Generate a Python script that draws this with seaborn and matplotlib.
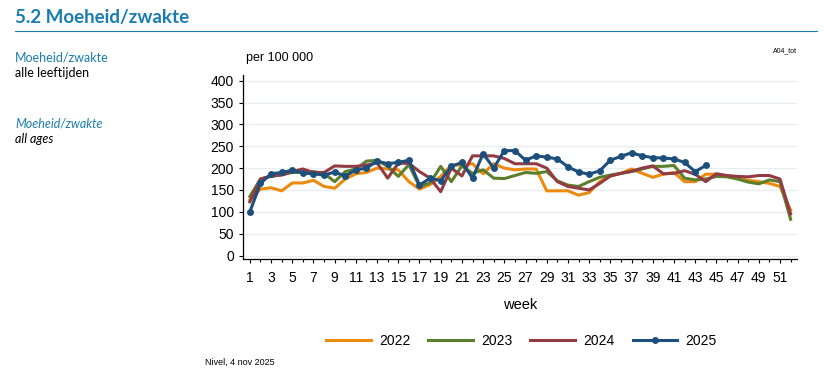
import seaborn as sns
import matplotlib.pyplot as plt
import pandas as pd
from matplotlib.ticker import MultipleLocator

weeks = list(range(1, 53))

y2022 = [127, 152, 155, 148, 166, 166, 172, 158, 154, 175, 187, 190, 200, 198, 196, 169,
         152, 162, 181, 207, 207, 210, 187, 210, 200, 196, 198, 198, 148, 148, 148, 138,
         144, 169, 182, 188, 198, 188, 179, 186, 190, 169, 169, 186, 186, 182, 177, 172,
         169, 165, 158, 104]
y2023 = [135, 175, 181, 185, 190, 190, 192, 188, 169, 192, 198, 216, 218, 204, 181, 208,
         158, 166, 204, 169, 205, 188, 196, 177, 176, 183, 190, 188, 192, 171, 161, 158,
         169, 179, 184, 188, 192, 198, 204, 204, 206, 177, 173, 175, 181, 180, 175, 168,
         164, 173, 169, 83]
y2024 = [123, 175, 182, 184, 192, 198, 190, 190, 205, 204, 204, 207, 212, 177, 211, 211,
         192, 177, 146, 200, 182, 228, 228, 228, 222, 210, 210, 210, 200, 169, 158, 154,
         150, 165, 182, 188, 193, 200, 205, 187, 188, 194, 186, 169, 187, 183, 181, 180,
         183, 183, 175, 95]
y2025 = [100, 165, 187, 190, 195, 189, 187, 184, 191, 182, 196, 200, 216, 210, 213, 218,
         161, 177, 171, 204, 213, 177, 233, 200, 240, 240, 218, 228, 225, 221, 203, 191,
         186, 194, 218, 227, 235, 228, 224, 223, 221, 213, 192, 206]

years = ['2022', '2023', '2024', '2025']
colors = ['#ec8a0d', '#5b7f2d', '#933b43', '#1d4f7c']
series = [y2022, y2023, y2024, y2025]

plt.rcParams['font.family'] = ['Liberation Sans', 'DejaVu Sans']
side_font = ['Lato', 'DejaVu Sans']

fig = plt.figure(figsize=(8.25, 3.77), dpi=100)
ax = fig.add_axes([0.2945, 0.313, 0.6715, 0.488])

for year, color, vals in zip(years, colors, series):
    df = pd.DataFrame({'week': weeks[:len(vals)], 'value': vals})
    if year == '2025':
        sns.lineplot(data=df, x='week', y='value', ax=ax, color=color, lw=2.2,
                     marker='o', markersize=5, markeredgewidth=0, label=year)
    else:
        sns.lineplot(data=df, x='week', y='value', ax=ax, color=color, lw=2.2, label=year)

ax.set_xlim(0.35, 52.6)
ax.set_ylim(-8, 413)
ax.set_yticks(range(0, 401, 50))
ax.set_xticks(range(1, 52, 2))
ax.xaxis.set_minor_locator(MultipleLocator(1))
ax.tick_params(axis='both', labelsize=10, length=3, width=0.8, color='black')
ax.tick_params(axis='x', which='major', pad=6)
ax.tick_params(axis='x', which='minor', length=2.5, width=0.8)
ax.grid(axis='y', color='#e8eef0', lw=1)
ax.set_axisbelow(True)
for s in ['top', 'right']:
    ax.spines[s].set_visible(False)
ax.spines['left'].set_linewidth(0.9)
ax.spines['bottom'].set_linewidth(0.9)
ax.set_xlabel('week', fontsize=10.5, labelpad=9)
ax.set_ylabel('')
ax.text(0.005, 1.06, 'per 100 000', transform=ax.transAxes, fontsize=9, va='bottom')

ax.get_legend().remove()
handles, labels = ax.get_legend_handles_labels()
fig.legend(handles, labels, ncol=4, loc='center', bbox_to_anchor=(0.632, 0.095),
           frameon=False, fontsize=10, handlelength=3.2, columnspacing=1.3, handletextpad=0.6)

title_blue = '#1a7db0'
fig.text(15 / 825, 1 - 18 / 377, '5.2 Moeheid/zwakte', fontsize=13.5, fontweight='bold',
         color=title_blue, va='center', family=side_font)
fig.add_artist(plt.Line2D([15 / 825, 817 / 825], [1 - 31 / 377] * 2, color=title_blue, lw=0.8))
fig.text(15 / 825, 1 - 57 / 377, 'Moeheid/zwakte', fontsize=9, color=title_blue, va='center',
         family=side_font)
fig.text(15 / 825, 1 - 73 / 377, 'alle leeftijden', fontsize=9, color='black', va='center',
         family=side_font)
fig.text(15 / 825, 1 - 123 / 377, 'Moeheid/zwakte', fontsize=9, color=title_blue, va='center',
         style='italic', family=side_font)
fig.text(15 / 825, 1 - 139 / 377, 'all ages', fontsize=9, color='black', va='center',
         style='italic', family=side_font)
fig.text(797 / 825, 1 - 51 / 377, 'A04_tot', fontsize=5, ha='right', va='center')
fig.text(205 / 825, 1 - 362 / 377, 'Nivel, 4 nov 2025', fontsize=6.5, va='center')

fig.savefig('out.png', dpi=100)
